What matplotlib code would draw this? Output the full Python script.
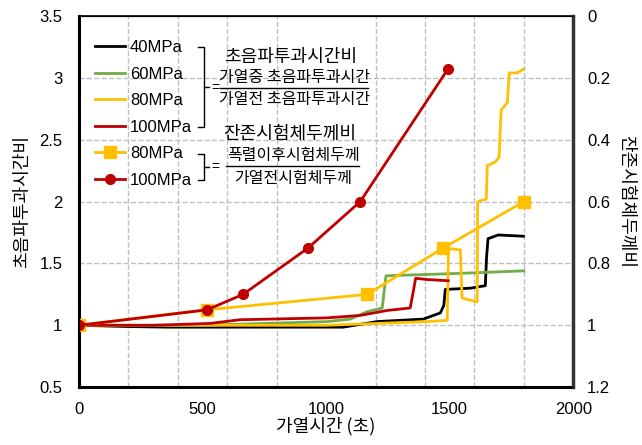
import matplotlib.pyplot as plt
from matplotlib.lines import Line2D

plt.rcParams['font.family'] = ['Liberation Sans', 'Noto Sans CJK KR', 'DejaVu Sans']
KR = ['Noto Sans CJK KR', 'DejaVu Sans']

# ultrasonic transit time ratio (left axis)
t40 = [0, 200, 356, 700, 1069, 1206, 1393, 1462, 1476, 1482, 1583, 1644, 1649, 1655, 1696, 1798]
r40 = [1.0, 0.99, 0.985, 0.985, 0.985, 1.03, 1.05, 1.10, 1.16, 1.29, 1.30, 1.32, 1.55, 1.70, 1.73, 1.72]
t60 = [0, 500, 1004, 1097, 1166, 1227, 1236, 1242, 1543, 1800]
r60 = [1.0, 1.0, 1.03, 1.05, 1.11, 1.14, 1.30, 1.40, 1.42, 1.44]
t80 = [0, 500, 1000, 1409, 1490, 1495, 1543, 1550, 1611, 1613, 1648, 1652, 1684, 1700, 1708, 1733, 1741, 1773, 1798]
r80 = [1.0, 1.0, 1.0, 1.03, 1.04, 1.62, 1.61, 1.22, 1.19, 2.0, 2.02, 2.29, 2.32, 2.36, 2.74, 2.80, 3.04, 3.04, 3.07]
t100 = [0, 300, 530, 652, 1004, 1138, 1247, 1340, 1355, 1362, 1409, 1494]
r100 = [1.0, 1.0, 1.015, 1.045, 1.06, 1.08, 1.12, 1.14, 1.30, 1.38, 1.37, 1.36]

# residual specimen thickness ratio (right axis)
tt80 = [0, 518, 1166, 1474, 1800]
th80 = [1.0, 0.95, 0.90, 0.75, 0.60]
tt100 = [0, 518, 664, 927, 1138, 1494]
th100 = [1.0, 0.95, 0.90, 0.75, 0.60, 0.17]

BLACK, GREEN, YELLOW, RED = '#000000', '#70AD47', '#FFC000', '#C00000'

fig = plt.figure(figsize=(6.42, 4.45), dpi=100)
ax = fig.add_axes([0.123, 0.130, 0.770, 0.834])

ax.plot(t40, r40, color=BLACK, lw=2)
ax.plot(t60, r60, color=GREEN, lw=2)
ax.plot(t80, r80, color=YELLOW, lw=2)
ax.plot(t100, r100, color=RED, lw=2)

ax.set_xlim(0, 2000)
ax.set_ylim(0.5, 3.5)
ax.set_xticks([0, 500, 1000, 1500, 2000])
ax.set_xticks(range(200, 2000, 200), minor=True)
ax.set_yticks([0.5, 1, 1.5, 2, 2.5, 3, 3.5])
ax.set_yticklabels(['0.5', '1', '1.5', '2', '2.5', '3', '3.5'])
ax.grid(which='minor', axis='x', color='#BFBFBF', ls='--', lw=1)
ax.grid(which='major', axis='y', color='#BFBFBF', ls='--', lw=1)
ax.tick_params(which='both', length=0, labelsize=12)
ax.tick_params(axis='x', pad=11)
ax.tick_params(axis='y', pad=12)
ax.set_xlabel('가열시간 (초)', family=KR, fontsize=13, labelpad=0)
ax.set_ylabel('초음파투과시간비', family=KR, fontsize=13, labelpad=6)
for side in ['left', 'bottom']:
    ax.spines[side].set_linewidth(2.2)
ax.spines['top'].set_linewidth(1.2)

ax2 = ax.twinx()
ax2.plot(tt80, th80, color=YELLOW, lw=2, marker='s', ms=8)
ax2.plot(tt100, th100, color=RED, lw=2, marker='o', ms=7)
ax2.set_ylim(1.2, 0)
ax2.set_yticks([0, 0.2, 0.4, 0.6, 0.8, 1.0, 1.2])
ax2.set_yticklabels(['0', '0.2', '0.4', '0.6', '0.8', '1', '1.2'])
ax2.tick_params(length=0, labelsize=12, pad=10)
ax2.set_ylabel('잔존시험체두께비', family=KR, fontsize=13, rotation=-90, labelpad=18)
ax2.spines['right'].set_linewidth(2.5)
ax2.spines['right'].set_color('#333333')

handles = [
    Line2D([], [], color=BLACK, lw=2),
    Line2D([], [], color=GREEN, lw=2),
    Line2D([], [], color=YELLOW, lw=2),
    Line2D([], [], color=RED, lw=2),
    Line2D([], [], color=YELLOW, lw=2, marker='s', ms=8),
    Line2D([], [], color=RED, lw=2, marker='o', ms=7),
]
labels = ['40MPa', '60MPa', '80MPa', '100MPa', '80MPa', '100MPa']
ax2.legend(handles, labels, loc='upper left', bbox_to_anchor=(0.009, 0.966),
           frameon=False, fontsize=12, handlelength=1.8, handletextpad=0.3,
           labelspacing=0.69, borderaxespad=0.3)

# brackets and ratio definitions (axes fraction coordinates)
tr = ax.transAxes


def px(x, y):
    return (x - 79) / 494, (387 - y) / 371


def bracket(y0, y1):
    xa, ya = px(198, y0)
    xb, yb = px(204, y1)
    xm, ym = px(209, (y0 + y1) / 2)
    ax.plot([xa, xb, xb, xa], [ya, ya, yb, yb], color='black', lw=1, transform=tr, clip_on=False)
    ax.plot([xb, xm], [ym, ym], color='black', lw=1, transform=tr, clip_on=False)


bracket(47, 127)
bracket(154, 180)

x, y = px(211, 88)
ax.text(x, y, '=', fontsize=10, ha='left', va='center', transform=tr)
x0, y = px(220, 88)
x1, _ = px(368, 88)
ax.plot([x0, x1], [y, y], color='black', lw=1, transform=tr)
x, y = px(291, 57)
ax.text(x, y, '초음파투과시간비', family=KR, fontsize=13, ha='center', va='center', transform=tr)
x, y = px(294, 77)
ax.text(x, y, '가열중 초음파투과시간', family=KR, fontsize=11.5, ha='center', va='center', transform=tr)
x, y = px(294, 99)
ax.text(x, y, '가열전 초음파투과시간', family=KR, fontsize=11.5, ha='center', va='center', transform=tr)

x, y = px(211, 167)
ax.text(x, y, '=', fontsize=10, ha='left', va='center', transform=tr)
x0, y = px(226, 166)
x1, _ = px(359, 166)
ax.plot([x0, x1], [y, y], color='black', lw=1, transform=tr)
x, y = px(290, 134)
ax.text(x, y, '잔존시험체두께비', family=KR, fontsize=13, ha='center', va='center', transform=tr)
x, y = px(293, 155)
ax.text(x, y, '폭렬이후시험체두께', family=KR, fontsize=11.5, ha='center', va='center', transform=tr)
x, y = px(293, 178)
ax.text(x, y, '가열전시험체두께', family=KR, fontsize=11.5, ha='center', va='center', transform=tr)

fig.savefig('out.png', dpi=100)
